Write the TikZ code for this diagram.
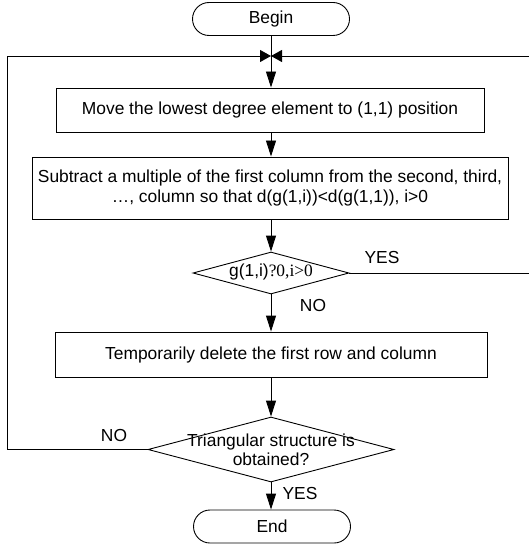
\documentclass[tikz,border=0pt]{standalone}
\usepackage{fontspec}
\setmainfont{Liberation Sans}
\newfontfamily\serifx{Liberation Serif}
\usetikzlibrary{shapes.geometric,arrows.meta}
\begin{document}
\begin{tikzpicture}[x=1pt,y=-1pt,
  every node/.style={font=\fontsize{17.4}{19.5}\selectfont, inner sep=0pt},
  ln/.style={line width=0.9pt, draw=black},
  term/.style={ln, rounded corners=16.5pt, minimum width=157pt, minimum height=33pt},
  proc/.style={ln, align=center},
  dec/.style={ln, diamond, inner sep=0pt},
  flow/.style={ln, -{Triangle[length=16pt,width=10pt]}},
  joinarrow/.style={ln, -{Triangle[length=11pt,width=12pt]}}
]
\useasboundingbox (0,0) rectangle (528,548);

\node[term] (begin) at (271,19) {Begin};
\node[proc, minimum width=428pt, minimum height=44pt] (box1) at (270,110) {Move the lowest degree element to (1,1) position};
\node[proc, minimum width=476pt, minimum height=62pt] (box2) at (270,188) {Subtract a multiple of the first column from the second, third,\\\ldots, column so that d(g(1,i))<d(g(1,1)), i>0};
\node[dec, minimum width=156pt, minimum height=42pt] (d1) at (271,273) {};
\node (t1) at (271,272) {g(1,i){\serifx ?0,i>0}};
\node[proc, minimum width=432pt, minimum height=45pt] (box3) at (271,354.5) {Temporarily delete the first row and column};
\node[dec, minimum width=246pt, minimum height=65pt] (d2) at (271,449.5) {};
\node[align=center] (t2) at (271,450) {Triangular structure is\\obtained?};
\node[term] (end) at (272,526.5) {End};

\coordinate (j) at (271,56);
\coordinate (lb) at (7,449.5);
\coordinate (lt) at (7,56);
\coordinate (rb) at (545,273);
\coordinate (rt) at (545,56);

\draw[flow] (begin.south) -- (box1.north -| begin.south);
\draw[flow] (box1.south -| begin.south) -- (box2.north -| begin.south);
\draw[flow] (box2.south -| d1.north) -- (d1.north);
\draw[flow] (d1.south) -- (box3.north -| d1.south);
\draw[flow] (box3.south -| d2.north) -- (d2.north);
\draw[flow] (d2.south) -- (end.north -| d2.south);

\draw[joinarrow] (d2.west) -- (lb) -- (lt) -- (j);
\draw[joinarrow] (d1.east) -- (rb) -- (rt) -- (j);

\node (yes1) at (382,258) {YES};
\node (no1) at (313,306) {NO};
\node (no2) at (114,436) {NO};
\node (yes2) at (300,494) {YES};
\end{tikzpicture}
\end{document}
